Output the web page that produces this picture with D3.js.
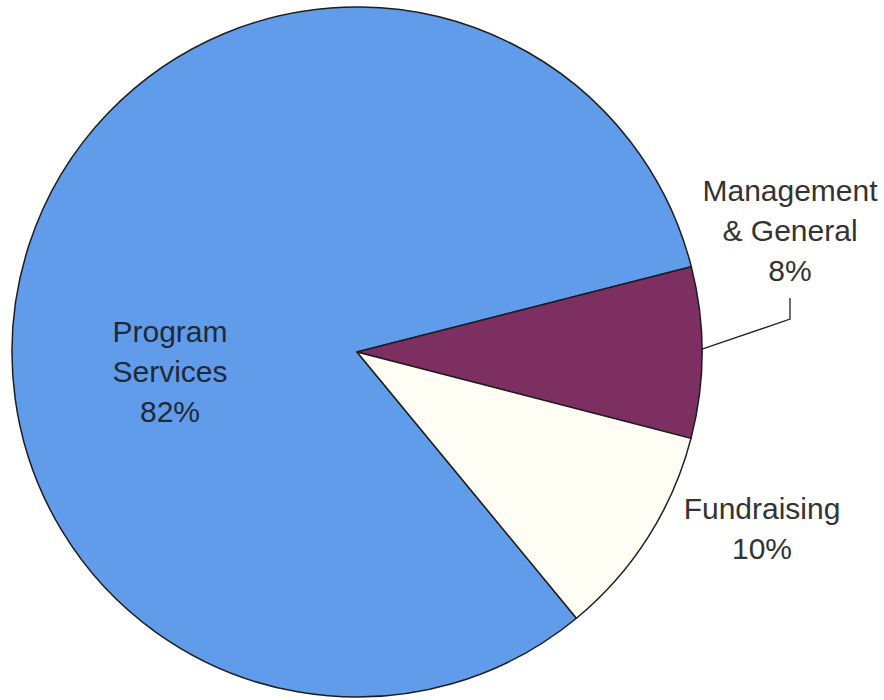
<!DOCTYPE html>
<html>
<head>
<meta charset="utf-8">
<script src="https://cdn.jsdelivr.net/npm/d3@7"></script>
<style>
    body { margin: 0; background: #fff; }
    svg { display: block; }
    text { font-family: 'Liberation Sans', Arial, sans-serif; }
</style>
</head>
<body>
<svg width="884" height="700"></svg>
<script>
const categories = ['Program Services', 'Management & General', 'Fundraising'];
const percents = [82, 8, 10];
const labelLines = [
    ['Program', 'Services', '82%'],
    ['Management', '& General', '8%'],
    ['Fundraising', '10%'],
];
const colours = ['#619cea', '#7d2f61', '#fffdf4'];

const data = categories.map((c, i) => ({ category: c, value: percents[i], lines: labelLines[i] }));

const svg = d3.select('svg'),
    cx = 357,
    cy = 352,
    radius = 345;

// labels sit at these offsets from the pie centre (first baseline)
const labelPos = [
    { x: -187, y: -10 },
    { x: 433, y: -151 },
    { x: 405, y: 167 },
];
const lineGap = 40;

const start = 140.5 * Math.PI / 180;
const pie = d3.pie().sort(null).value(d => d.value)
    .startAngle(start)
    .endAngle(start + 2 * Math.PI);
const arcs = pie(data);

const arc = d3.arc().innerRadius(0).outerRadius(radius);

const g = svg.append('g').attr('transform', 'translate(' + cx + ',' + cy + ')');

g.selectAll('.slice')
    .data(arcs)
    .enter()
    .append('path')
    .attr('class', 'slice')
    .attr('d', arc)
    .attr('fill', (d, i) => colours[i])
    .attr('stroke', '#1e1e1e')
    .attr('stroke-width', 1.5)
    .attr('stroke-linejoin', 'round');

// leader line for the small management slice
const mg = arcs[1];
const mid = (mg.startAngle + mg.endAngle) / 2 - 0.01;
const px = Math.sin(mid) * radius,
    py = -Math.cos(mid) * radius;
g.append('path')
    .attr('d', `M${px} ${py} L${labelPos[1].x} ${py - 30} L${labelPos[1].x} ${labelPos[1].y + 2 * lineGap + 17}`)
    .attr('fill', 'none')
    .attr('stroke', '#222')
    .attr('stroke-width', 1.3);

const labels = g.selectAll('.label')
    .data(arcs)
    .enter()
    .append('text')
    .attr('class', 'label')
    .attr('text-anchor', 'middle')
    .attr('font-size', 30)
    .attr('fill', (d, i) => (i === 0 ? '#1f2a38' : '#333'))
    .attr('transform', (d, i) => 'translate(' + labelPos[i].x + ',' + labelPos[i].y + ')');

labels.selectAll('tspan')
    .data(d => d.data.lines)
    .enter()
    .append('tspan')
    .attr('x', 0)
    .attr('y', (d, i) => i * lineGap)
    .text(d => d);
</script>
</body>
</html>
